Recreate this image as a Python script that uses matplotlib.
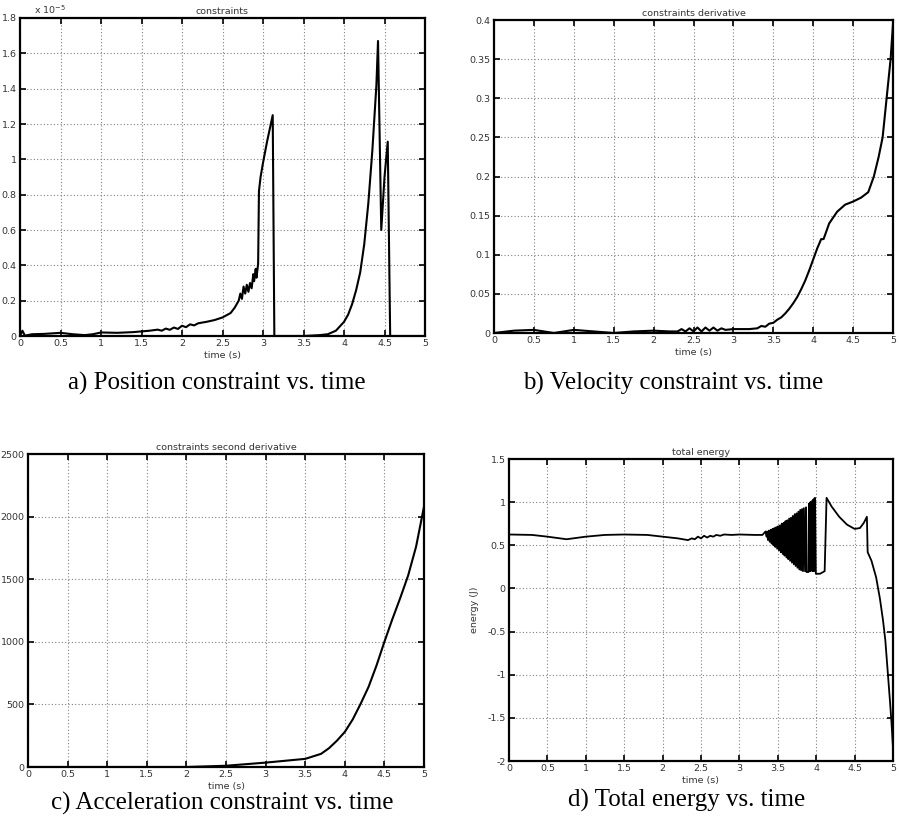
import matplotlib
matplotlib.use("Agg")
import matplotlib.pyplot as plt
from matplotlib.ticker import FuncFormatter

# ---------------- data ----------------
# a) position constraint (units of 1e-5)
t_pos = [0.0, 0.03, 0.06, 0.15, 0.3, 0.5, 0.65, 0.8, 0.9, 1.0, 1.2, 1.4, 1.5, 1.6, 1.7,
         1.75, 1.8, 1.85, 1.9, 1.95, 2.0, 2.05, 2.1, 2.15, 2.2, 2.3, 2.4, 2.5, 2.6, 2.65,
         2.7, 2.72, 2.74, 2.76, 2.78, 2.8, 2.82, 2.84, 2.86, 2.88, 2.89, 2.91, 2.92, 2.94,
         2.95, 2.97, 3.0, 3.05, 3.12, 3.14, 3.2, 3.5, 3.7, 3.8, 3.9, 4.0, 4.05, 4.1, 4.15,
         4.2, 4.25, 4.3, 4.35, 4.4, 4.42, 4.46, 4.5, 4.54, 4.57, 4.6, 5.0]
c_pos = [0.0, 0.03, 0.002, 0.01, 0.012, 0.018, 0.01, 0.005, 0.01, 0.02, 0.018, 0.022, 0.026, 0.03, 0.036,
         0.03, 0.042, 0.035, 0.048, 0.04, 0.058, 0.05, 0.066, 0.06, 0.072, 0.08, 0.09, 0.105, 0.13, 0.16,
         0.2, 0.24, 0.21, 0.28, 0.24, 0.29, 0.25, 0.3, 0.27, 0.35, 0.31, 0.38, 0.33, 0.41,
         0.82, 0.9, 0.98, 1.1, 1.25, 0.0, 0.0, 0.0, 0.005, 0.01, 0.03, 0.08, 0.12, 0.18, 0.26,
         0.36, 0.52, 0.75, 1.05, 1.42, 1.67, 0.6, 0.9, 1.1, 0.0, 0.0, 0.0]

# b) velocity constraint
t_vel = [0.0, 0.25, 0.5, 0.75, 1.0, 1.25, 1.5, 1.75, 2.0, 2.2, 2.3, 2.35, 2.4, 2.45, 2.5, 2.55,
         2.6, 2.65, 2.7, 2.75, 2.8, 2.85, 2.9, 3.0, 3.1, 3.2, 3.3, 3.35, 3.4, 3.45, 3.5, 3.55,
         3.6, 3.65, 3.7, 3.75, 3.8, 3.85, 3.9, 3.95, 4.0, 4.05, 4.1, 4.13, 4.2, 4.3, 4.4,
         4.5, 4.6, 4.69, 4.76, 4.82, 4.87, 4.92, 4.97, 5.0]
c_vel = [0.0, 0.003, 0.004, 0.0, 0.004, 0.002, 0.0, 0.002, 0.003, 0.002, 0.002, 0.005, 0.002, 0.006, 0.002, 0.007,
         0.002, 0.007, 0.003, 0.007, 0.003, 0.006, 0.004, 0.005, 0.005, 0.005, 0.006, 0.009, 0.008, 0.012, 0.013, 0.017,
         0.02, 0.025, 0.031, 0.038, 0.046, 0.056, 0.067, 0.08, 0.094, 0.108, 0.12, 0.12, 0.14, 0.155, 0.164,
         0.168, 0.173, 0.18, 0.2, 0.225, 0.25, 0.3, 0.35, 0.395]

# c) acceleration constraint
t_acc = [0.0, 1.0, 2.0, 2.5, 3.0, 3.5, 3.7, 3.8, 3.9, 4.0, 4.1, 4.2, 4.3, 4.4, 4.5,
         4.6, 4.7, 4.8, 4.9, 5.0]
c_acc = [0.0, 0.0, 0.0, 10, 35, 65, 105, 150, 210, 280, 380, 505, 640, 810, 1000,
         1180, 1350, 1530, 1760, 2080]

# d) total energy
t_en = [0.0, 0.3, 0.5, 0.75, 1.0, 1.25, 1.5, 1.8, 2.0, 2.2, 2.33, 2.38, 2.42, 2.46, 2.5, 2.54,
        2.58, 2.62, 2.66, 2.7, 2.75, 2.8, 2.9, 3.0, 3.2, 3.3, 3.34, 3.355,
        3.36, 3.372, 3.384, 3.396, 3.408, 3.42, 3.432, 3.444, 3.456, 3.468, 3.48, 3.492,
        3.504, 3.516, 3.528, 3.54, 3.552, 3.564, 3.576, 3.588, 3.6, 3.612, 3.624, 3.636,
        3.648, 3.66, 3.672, 3.684, 3.696, 3.708, 3.72, 3.732, 3.744, 3.756, 3.768, 3.78,
        3.792, 3.804, 3.816, 3.828, 3.84, 3.855, 3.868, 3.874, 3.9, 3.905, 3.91, 3.915,
        3.92, 3.925, 3.93, 3.935, 3.94, 3.945, 3.95, 3.955, 3.96, 3.965, 3.97, 3.975,
        3.985, 3.995, 4.05, 4.11, 4.135, 4.2, 4.3, 4.4, 4.5, 4.57, 4.62, 4.66, 4.67,
        4.72, 4.78, 4.83, 4.87, 4.9, 4.93, 4.96, 4.98, 5.0]
e_en = [0.625, 0.62, 0.6, 0.57, 0.6, 0.62, 0.625, 0.62, 0.6, 0.58, 0.56, 0.58, 0.57, 0.6, 0.58, 0.61,
        0.59, 0.61, 0.6, 0.62, 0.61, 0.625, 0.62, 0.625, 0.62, 0.62, 0.66, 0.6,
        0.66, 0.56, 0.67, 0.54, 0.68, 0.52, 0.69, 0.5, 0.70, 0.48, 0.71, 0.46,
        0.72, 0.44, 0.73, 0.42, 0.75, 0.40, 0.76, 0.38, 0.78, 0.36, 0.79, 0.34,
        0.81, 0.32, 0.82, 0.30, 0.84, 0.28, 0.86, 0.26, 0.87, 0.24, 0.89, 0.22,
        0.91, 0.21, 0.92, 0.20, 0.93, 0.20, 0.94, 0.19, 0.19, 0.98, 0.22, 0.99,
        0.2, 1.0, 0.21, 1.0, 0.22, 1.01, 0.2, 1.02, 0.21, 1.03, 0.2, 1.04,
        1.05, 0.17, 0.17, 0.2, 1.05, 0.95, 0.83, 0.74, 0.69, 0.7, 0.76, 0.83, 0.42,
        0.32, 0.13, -0.12, -0.37, -0.6, -0.95, -1.3, -1.55, -1.85]

x_ticks = [0, 0.5, 1, 1.5, 2, 2.5, 3, 3.5, 4, 4.5, 5]
captions = ["a) Position constraint vs. time", "b) Velocity constraint vs. time",
            "c) Acceleration constraint vs. time", "d) Total energy vs. time"]
titles = ["constraints", "constraints derivative", "constraints second derivative", "total energy"]

# ---------------- figure ----------------
W, H = 899, 830
fig = plt.figure(figsize=(W / 100, H / 100), dpi=100)
fig.patch.set_facecolor("white")

def rect(l, t, r, b):
    return [l / W, 1 - b / H, (r - l) / W, (b - t) / H]

TXT = "#333333"
gfmt = FuncFormatter(lambda v, p: ("%g" % v))

def style(ax, yt, title):
    ax.set_xlim(0, 5)
    ax.set_xticks(x_ticks)
    ax.set_yticks(yt)
    ax.set_ylim(yt[0], yt[-1])
    ax.xaxis.set_major_formatter(gfmt)
    ax.yaxis.set_major_formatter(gfmt)
    ax.grid(True, linestyle=(0, (1, 2)), color="#808080", linewidth=0.8)
    ax.tick_params(direction="in", top=True, right=True, length=4, width=1.2,
                   labelsize=6.8, labelcolor=TXT, pad=2.5)
    for s in ax.spines.values():
        s.set_linewidth(1.6)
    ax.set_xlabel("time (s)", fontsize=6.8, color=TXT, labelpad=1.5)
    ax.set_title(title, fontsize=6.8, color=TXT, pad=3)

axa = fig.add_axes(rect(20, 18, 425, 336))
axa.plot(t_pos, c_pos, color="black", lw=1.5)
style(axa, [0, 0.2, 0.4, 0.6, 0.8, 1, 1.2, 1.4, 1.6, 1.8], titles[0])
axa.text(0.035, 1.005, r"x 10$^{-5}$", transform=axa.transAxes, fontsize=6.8,
         color=TXT, ha="left", va="bottom")

axb = fig.add_axes(rect(494, 20, 893, 333))
axb.plot(t_vel, c_vel, color="black", lw=1.5)
style(axb, [0, 0.05, 0.1, 0.15, 0.2, 0.25, 0.3, 0.35, 0.4], titles[1])

axc = fig.add_axes(rect(28, 454, 424, 767))
axc.plot(t_acc, c_acc, color="black", lw=1.5)
style(axc, [0, 500, 1000, 1500, 2000, 2500], titles[2])

axd = fig.add_axes(rect(509, 459, 893, 761))
axd.plot(t_en, e_en, color="black", lw=1.3)
style(axd, [-2, -1.5, -1, -0.5, 0, 0.5, 1, 1.5], titles[3])
axd.set_ylabel("energy (J)", fontsize=6.8, color=TXT, labelpad=6)

serif = ["Liberation Serif", "DejaVu Serif"]
fs = 18
fig.text(217 / W, 1 - 383 / H, captions[0], family=serif, fontsize=fs, ha="center", va="center")
fig.text(673 / W, 1 - 383 / H, captions[1], family=serif, fontsize=fs, ha="center", va="center")
fig.text(222 / W, 1 - 803 / H, captions[2], family=serif, fontsize=fs, ha="center", va="center")
fig.text(687 / W, 1 - 800 / H, captions[3], family=serif, fontsize=fs, ha="center", va="center")

fig.savefig("out.png", dpi=100)
